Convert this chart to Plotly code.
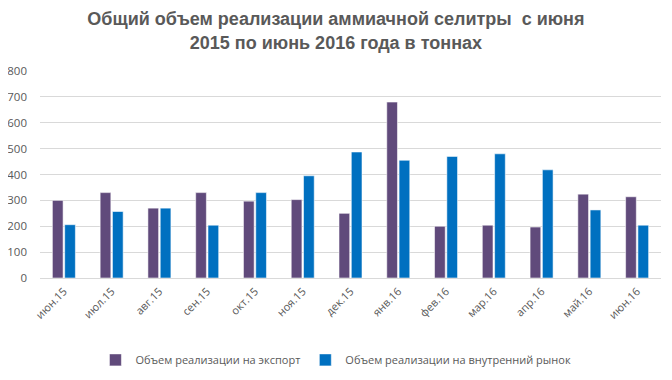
import plotly.graph_objects as go

categories = ["июн.15", "июл.15", "авг.15", "сен.15", "окт.15", "ноя.15", "дек.15",
              "янв.16", "фев.16", "мар.16", "апр.16", "май.16", "июн.16"]
export_vals = [300, 330, 270, 330, 297, 303, 250, 680, 200, 204, 197, 324, 314]
domestic_vals = [206, 257, 270, 204, 330, 395, 487, 455, 470, 480, 418, 263, 204]
y_ticks = [0, 100, 200, 300, 400, 500, 600, 700, 800]

title_font = "Liberation Sans Narrow, Liberation Sans, Arial"
body_font = "Open Sans, Liberation Sans, Arial"

fig = go.Figure()
fig.add_trace(go.Bar(
    x=categories, y=export_vals, name="Объем реализации на экспорт",
    marker=dict(color="#604A7B", line=dict(color="rgba(255,255,255,0.55)", width=1)),
))
fig.add_trace(go.Bar(
    x=categories, y=domestic_vals, name="Объем реализации на внутренний рынок",
    marker=dict(color="#0070C0", line=dict(color="rgba(255,255,255,0.55)", width=1)),
))

fig.update_layout(
    width=672, height=380,
    paper_bgcolor="white", plot_bgcolor="white",
    margin=dict(l=32, r=19, t=63, b=110, autoexpand=False),
    barmode="group", bargap=0.485, bargroupgap=0.13,
    title=dict(
        text="<b>Общий объем реализации аммиачной селитры  с июня<br>2015 по июнь 2016 года в тоннах</b>",
        x=0.488, xanchor="center", xref="container", y=0.955, yanchor="top",
        font=dict(family=title_font, size=18, color="#595959"),
    ),
    font=dict(family=body_font, size=11, color="#595959"),
    showlegend=True,
    legend=dict(
        orientation="h", x=0.488, xanchor="center", xref="container",
        y=0.074, yanchor="middle", yref="container",
        font=dict(family=body_font, size=11, color="#595959"),
        traceorder="normal",
    ),
    xaxis=dict(tickangle=-45, showgrid=False, showline=False, ticks="",
               ticklabelstandoff=4,
               tickfont=dict(family=body_font, size=11, color="#595959")),
    yaxis=dict(range=[0, 800], tickvals=y_ticks, showgrid=True, gridcolor="#D9D9D9",
               gridwidth=1, zeroline=True, zerolinecolor="#D9D9D9", zerolinewidth=1,
               showline=False, ticks="", ticklabelstandoff=12,
               tickfont=dict(family=body_font, size=11.5, color="#595959")),
)

fig.write_html("out.html")
